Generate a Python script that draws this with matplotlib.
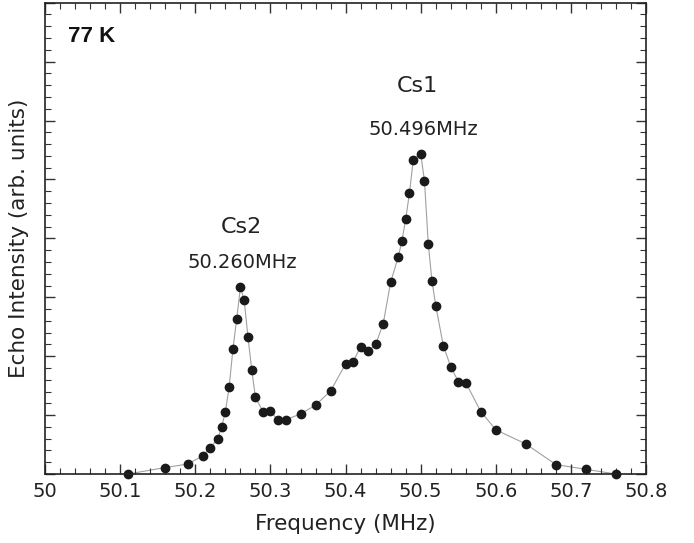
import matplotlib
matplotlib.use("Agg")
import matplotlib.pyplot as plt
from matplotlib.ticker import MultipleLocator

# spin-echo spectrum (arb. units)
freq_mhz = [50.11, 50.16, 50.19, 50.21, 50.22, 50.23, 50.235, 50.24, 50.245, 50.25,
            50.255, 50.26, 50.265, 50.27, 50.275, 50.28, 50.29, 50.30, 50.31, 50.32,
            50.34, 50.36, 50.38, 50.40, 50.41, 50.42, 50.43, 50.44, 50.45, 50.46,
            50.47, 50.475, 50.48, 50.485, 50.49, 50.50, 50.505, 50.51, 50.515, 50.52,
            50.53, 50.54, 50.55, 50.56, 50.58, 50.60, 50.64, 50.68, 50.72, 50.76]
intensity = [0.0, 0.11, 0.17, 0.31, 0.45, 0.60, 0.80, 1.06, 1.48, 2.12,
             2.63, 3.17, 2.95, 2.33, 1.77, 1.30, 1.06, 1.07, 0.91, 0.92,
             1.02, 1.17, 1.41, 1.87, 1.91, 2.16, 2.09, 2.20, 2.55, 3.26,
             3.68, 3.96, 4.33, 4.77, 5.33, 5.44, 4.97, 3.91, 3.27, 2.86,
             2.18, 1.82, 1.57, 1.55, 1.06, 0.75, 0.51, 0.16, 0.08, 0.0]

peak_names = ["Cs2", "Cs1"]
peak_labels = ["50.260MHz", "50.496MHz"]
name_x = [50.261, 50.496]
label_x = [50.263, 50.503]
name_y = [4.09, 6.48]
label_y = [3.50, 5.76]

plt.rcParams["font.family"] = ["DejaVu Sans"]

fig = plt.figure(figsize=(6.94, 5.43), dpi=100)
ax = fig.add_axes([0.065, 0.127, 0.866, 0.868])

ax.plot(freq_mhz, intensity, color="#a0a0a0", lw=0.8, zorder=1)
ax.plot(freq_mhz, intensity, "o", color="#1a1a1a", ms=6, mec="#1a1a1a",
        zorder=2, clip_on=False)

for name, lab, xn, xl, yn, yl in zip(peak_names, peak_labels, name_x, label_x, name_y, label_y):
    ax.text(xn, yn, name, ha="center", va="baseline", fontsize=16, color="#222222")
    ax.text(xl, yl, lab, ha="center", va="baseline", fontsize=14, color="#222222")

ax.text(50.03, 7.33, "77 K", ha="left", va="baseline",
        fontsize=16, fontweight="bold", family="Liberation Sans", color="#111111")

ax.set_xlim(50.0, 50.8)
ax.set_ylim(0, 8)
ax.xaxis.set_major_locator(MultipleLocator(0.1))
ax.xaxis.set_minor_locator(MultipleLocator(0.02))
ax.yaxis.set_major_locator(MultipleLocator(1))
ax.yaxis.set_minor_locator(MultipleLocator(0.2))
ax.xaxis.set_major_formatter(plt.FuncFormatter(lambda v, p: f"{v:g}"))
ax.tick_params(which="both", direction="in", top=True, right=True, color="#333333")
ax.tick_params(which="major", length=7, width=1.0, labelsize=14, labelcolor="#222222", pad=6)
ax.tick_params(which="minor", length=4, width=0.8)
ax.tick_params(axis="y", labelleft=False)
for s in ax.spines.values():
    s.set_linewidth(1.2)
    s.set_color("#222222")

ax.set_xlabel("Frequency (MHz)", fontsize=15.5, color="#222222", labelpad=9)
ax.set_ylabel("Echo Intensity (arb. units)", fontsize=15.5, color="#222222", labelpad=8)

fig.savefig("out.png", dpi=100)
